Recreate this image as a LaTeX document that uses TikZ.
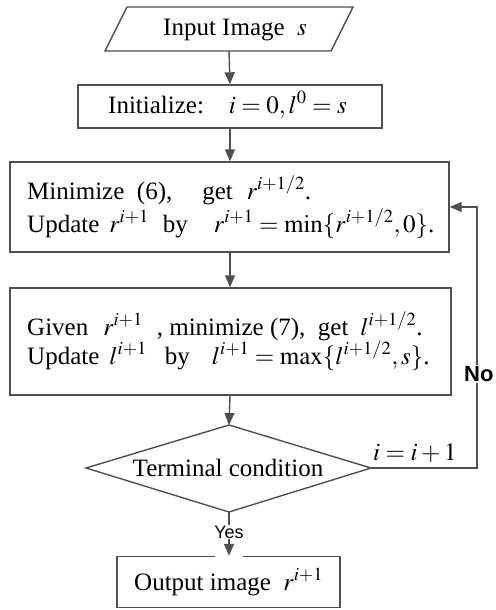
\documentclass[tikz,border=0pt]{standalone}
\usepackage{mathptmx}
\usepackage[no-math]{fontspec}
\setmainfont{Liberation Serif}
\newfontfamily\labfont{Liberation Sans}
\usetikzlibrary{arrows.meta}
\definecolor{ln}{HTML}{4F4F4F}
\tikzset{
  box/.style={draw=ln, line width=1.4pt, rectangle, inner sep=0pt},
  arr/.style={draw=ln, line width=1.4pt, -{Triangle[length=12pt,width=10pt]}},
  con/.style={draw=ln, line width=1.4pt},
  txt/.style={font=\fontsize{25}{33}\selectfont, inner sep=0pt},
}
\begin{document}
\begin{tikzpicture}[x=1pt,y=1pt]
\useasboundingbox (0,0) rectangle (495,-610);
% input parallelogram
\coordinate (p1) at (127,-7);
\coordinate (p2) at (353,-7);
\coordinate (p3) at (331,-51);
\coordinate (p4) at (105,-51);
\draw[con, line join=miter] (p1) -- (p2) -- (p3) -- (p4) -- cycle;
\node[txt, anchor=base west] (input) at (163,-36) {Input Image\ \ $s$};
\coordinate (inb) at (229,-51);
% init
\node[box, minimum width=304pt, minimum height=43pt] (init) at (230,-106.5) {};
\node[txt, anchor=base west] (initt) at (108,-113) {Initialize:\quad $i=0,l^0=s$};
% minimize box
\node[box, minimum width=439pt, minimum height=90pt] (min) at (229.5,-207) {};
\node[txt, anchor=base west] (m1) at (27,-199) {Minimize\ \ (6),\hspace{30pt}get\hspace{14pt}$r^{i+1/2}$.};
\node[txt, anchor=base west] (m2) at (27,-232) {Update\hspace{10pt}$r^{i+1}$\hspace{14pt}by\hspace{26pt}$r^{i+1}=\min\{r^{i+1/2},0\}$.};
% update l box
\node[box, minimum width=441pt, minimum height=107pt] (upd) at (230.5,-341.5) {};
\node[txt, anchor=base west] (u1) at (27,-335) {Given\hspace{15pt}$r^{i+1}$\hspace{14pt}, minimize (7),\ \ get\hspace{12pt}$l^{i+1/2}$.};
\node[txt, anchor=base west] (u2) at (27,-364) {Update\hspace{10pt}$l^{i+1}$\hspace{18pt}by\hspace{22pt}$l^{i+1}=\max\{l^{i+1/2},s\}$.};
% diamond
\coordinate (dT) at (229,-425);
\coordinate (dR) at (371,-468);
\coordinate (dB) at (229,-512);
\coordinate (dL) at (86,-468);
\draw[con, line join=miter] (dT) -- (dR) -- (dB) -- (dL) -- cycle;
\node[txt] (term) at (228,-468) {Terminal condition};
\node[txt, anchor=base west] (inc) at (373,-460) {$i=i+1$};
% output
\node[box, minimum width=223pt, minimum height=51pt] (out) at (228.5,-582) {};
\node[txt, anchor=base west] (outt) at (134,-590) {Output image\ \ $r^{i+1}$};
\draw[white, line width=2.5pt] (215,-556) -- (243,-556);
% arrows
\draw[arr] (inb) -- (init.north);
\draw[arr] (init.south) -- (min.north -| init.south);
\draw[arr] (min.south -| init.south) -- (upd.north -| init.south);
\draw[arr] (upd.south -| init.south) -- (dT);
\draw[arr] (dB) -- (out.north -| dB);
\coordinate (fb) at (477,-468);
\draw[arr] (dR) -- (fb) |- (min.east);
\node[fill=white, inner sep=1pt, font=\labfont\fontsize{18}{18}\selectfont] (yes) at (229,-532) {Yes};
\node[fill=white, inner sep=1pt, anchor=west, font=\labfont\bfseries\fontsize{22}{22}\selectfont] (no) at (463,-374) {No};
\end{tikzpicture}
\end{document}
